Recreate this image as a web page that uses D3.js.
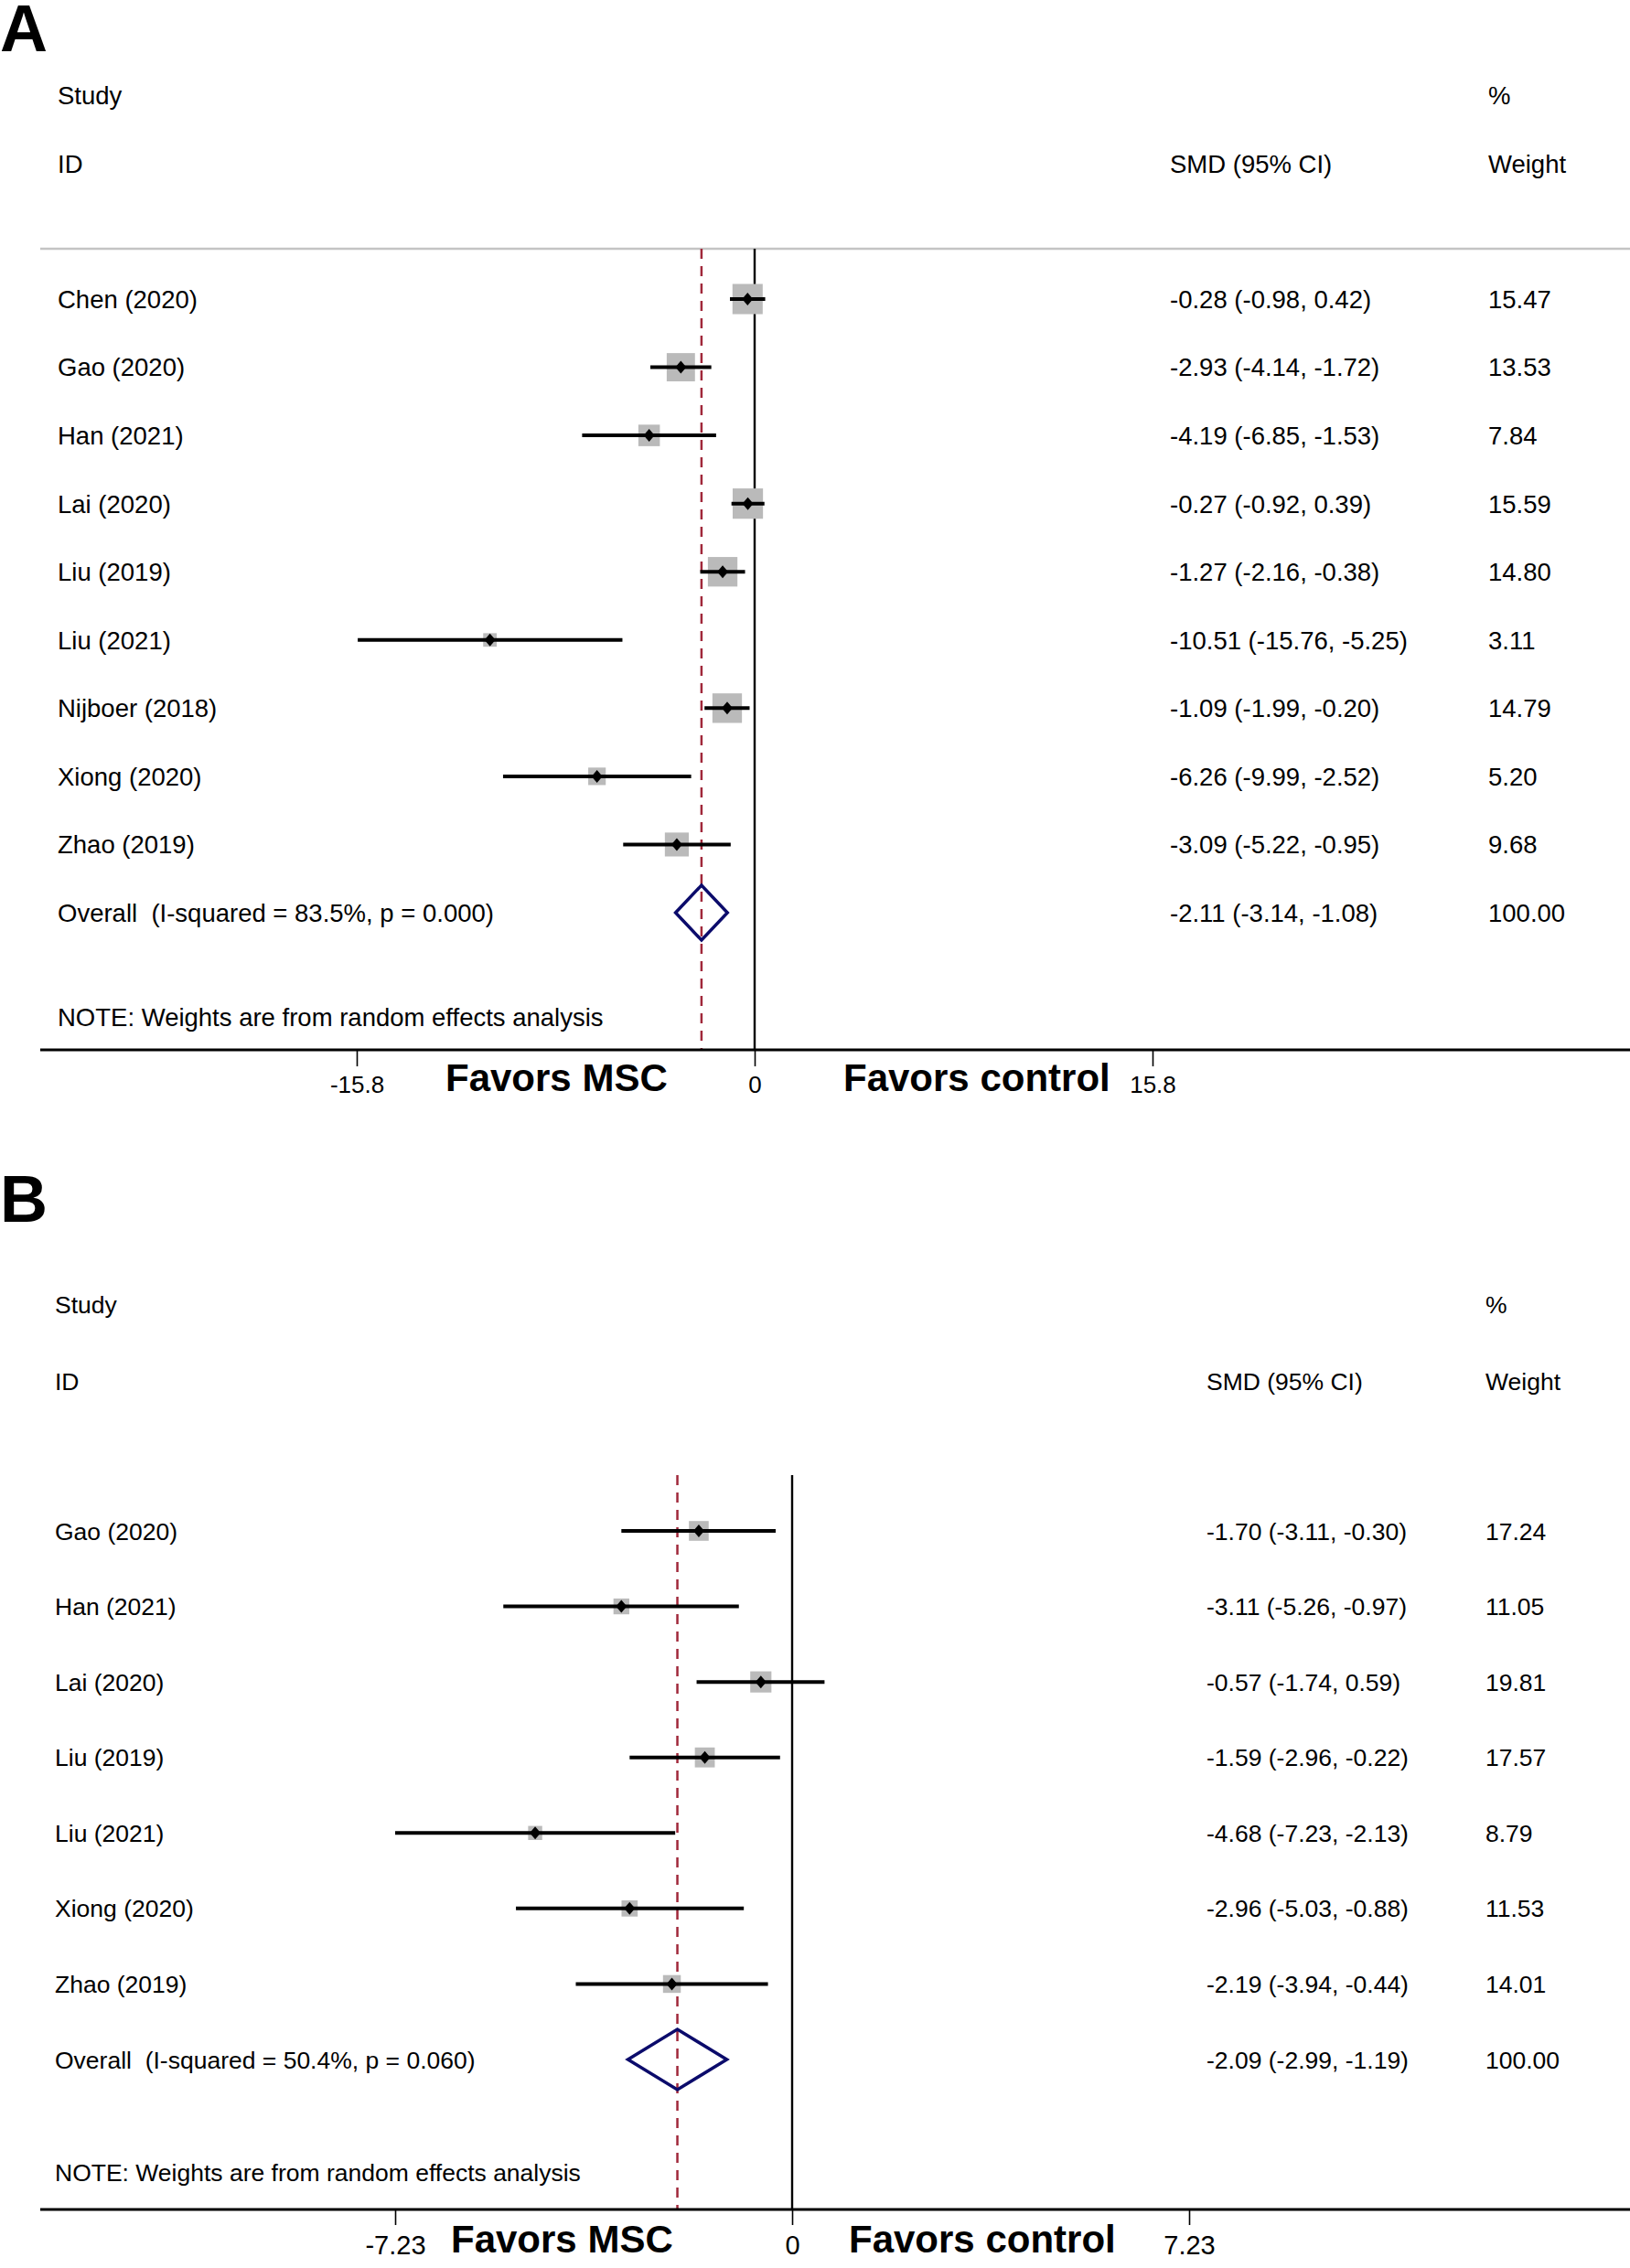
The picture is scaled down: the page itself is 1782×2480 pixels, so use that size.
<!DOCTYPE html>
<html>
<head>
<meta charset="utf-8">
<script src="https://cdn.jsdelivr.net/npm/d3@7"></script>
<style>
  html, body { margin: 0; padding: 0; background: #ffffff; }
  svg { display: block; font-family: "Liberation Sans", Arial, Helvetica, sans-serif; }
  text { white-space: pre; }
</style>
</head>
<body>
<svg id="chart" width="1782" height="2480"></svg>
<script>
// ---------------- Panel A data ----------------
const studiesA = ["Chen (2020)", "Gao (2020)", "Han (2021)", "Lai (2020)", "Liu (2019)",
                  "Liu (2021)", "Nijboer (2018)", "Xiong (2020)", "Zhao (2019)"];
const smdA    = [-0.28, -2.93, -4.19, -0.27, -1.27, -10.51, -1.09, -6.26, -3.09];
const lowA    = [-0.98, -4.14, -6.85, -0.92, -2.16, -15.76, -1.99, -9.99, -5.22];
const highA   = [ 0.42, -1.72, -1.53,  0.39, -0.38,  -5.25, -0.20, -2.52, -0.95];
const weightA = [15.47, 13.53, 7.84, 15.59, 14.80, 3.11, 14.79, 5.20, 9.68];
const overallA = [-2.11, -3.14, -1.08];           // SMD, low, high
const overallLabelA = "Overall  (I-squared = 83.5%, p = 0.000)";
const ticksA = [-15.8, 0, 15.8];
const tickLabelsA = ["-15.8", "0", "15.8"];

// ---------------- Panel B data ----------------
const studiesB = ["Gao (2020)", "Han (2021)", "Lai (2020)", "Liu (2019)",
                  "Liu (2021)", "Xiong (2020)", "Zhao (2019)"];
const smdB    = [-1.70, -3.11, -0.57, -1.59, -4.68, -2.96, -2.19];
const lowB    = [-3.11, -5.26, -1.74, -2.96, -7.23, -5.03, -3.94];
const highB   = [-0.30, -0.97,  0.59, -0.22, -2.13, -0.88, -0.44];
const weightB = [17.24, 11.05, 19.81, 17.57, 8.79, 11.53, 14.01];
const overallB = [-2.09, -2.99, -1.19];
const overallLabelB = "Overall  (I-squared = 50.4%, p = 0.060)";
const ticksB = [-7.23, 0, 7.23];
const tickLabelsB = ["-7.23", "0", "7.23"];

const noteText = "NOTE: Weights are from random effects analysis";
const favorsLeft = "Favors MSC";
const favorsRight = "Favors control";

const svg = d3.select("#chart");
const locale = d3.formatLocale({ decimal: ".", thousands: ",", grouping: [3], currency: ["", ""], minus: "-" });
const f2 = locale.format(".2f");
const ciText = (m, l, h) => `${f2(m)} (${f2(l)}, ${f2(h)})`;

function drawPanel(cfg) {
  const g = svg.append("g");
  const n = cfg.studies.length;
  const x = d3.scaleLinear().domain(cfg.xDomain).range(cfg.xRange);
  const y = d3.scaleLinear().domain([0, n]).range([cfg.yFirst, cfg.yOverall]);
  const box = d3.scaleSqrt().domain([0, 100]).range([0, cfg.boxMax]);
  const fs = cfg.fontSize;

  // Panel letter
  g.append("text").attr("x", 0).attr("y", cfg.letterBase)
    .attr("font-size", 72).attr("font-weight", "bold").attr("fill", "#000")
    .text(cfg.letter);

  // Headers
  const hdr = [
    ["Study", cfg.colStudy, cfg.hdr1],
    ["%", cfg.colWeight, cfg.hdr1],
    ["ID", cfg.colStudy, cfg.hdr2],
    ["SMD (95% CI)", cfg.colCI, cfg.hdr2],
    ["Weight", cfg.colWeight, cfg.hdr2]
  ];
  g.selectAll("text.hdr").data(hdr).join("text").attr("class", "hdr")
    .attr("x", d => d[1]).attr("y", d => d[2]).attr("dy", "0.36em")
    .attr("font-size", fs).attr("fill", "#000").text(d => d[0]);

  // separator line
  if (cfg.sepY) {
    g.append("line").attr("x1", 44).attr("x2", 1782).attr("y1", cfg.sepY).attr("y2", cfg.sepY)
      .attr("stroke", "#c4c4c4").attr("stroke-width", 2.5);
  }

  // zero line
  g.append("line").attr("x1", x(0)).attr("x2", x(0))
    .attr("y1", cfg.plotTop).attr("y2", cfg.axisY)
    .attr("stroke", "#000").attr("stroke-width", 2.4);

  // overall dashed line
  g.append("line").attr("x1", x(cfg.overall[0])).attr("x2", x(cfg.overall[0]))
    .attr("y1", cfg.plotTop).attr("y2", cfg.axisY)
    .attr("stroke", "#a0283a").attr("stroke-width", 2.5)
    .attr("stroke-dasharray", "11,8");

  const rows = cfg.studies.map((s, i) => ({
    name: s, m: cfg.smd[i], l: cfg.low[i], h: cfg.high[i], w: cfg.weight[i], i
  }));

  // weight boxes
  g.selectAll("rect.box").data(rows).join("rect").attr("class", "box")
    .attr("x", d => x(d.m) - box(d.w) / 2).attr("y", d => y(d.i) - box(d.w) / 2)
    .attr("width", d => box(d.w)).attr("height", d => box(d.w))
    .attr("fill", "#bababa");

  // CI lines
  g.selectAll("line.ci").data(rows).join("line").attr("class", "ci")
    .attr("x1", d => x(d.l)).attr("x2", d => x(d.h))
    .attr("y1", d => y(d.i)).attr("y2", d => y(d.i))
    .attr("stroke", "#000").attr("stroke-width", 4);

  // point diamonds
  g.selectAll("path.pt").data(rows).join("path").attr("class", "pt")
    .attr("d", d => {
      const cx = x(d.m), cy = y(d.i);
      return `M${cx},${cy - 7}L${cx + 6},${cy}L${cx},${cy + 7}L${cx - 6},${cy}Z`;
    })
    .attr("fill", "#000");

  // overall diamond
  const oy = y(n);
  const [om, ol, oh] = cfg.overall;
  g.append("path")
    .attr("d", `M${x(ol)},${oy}L${x(om)},${oy - cfg.diaH}L${x(oh)},${oy}L${x(om)},${oy + cfg.diaH}Z`)
    .attr("fill", "none").attr("stroke", "#0b0b6b").attr("stroke-width", 3.5)
    .attr("stroke-linejoin", "miter");

  // study labels & values
  const allRows = rows.map(d => ({ label: d.name, ci: ciText(d.m, d.l, d.h), w: f2(d.w), i: d.i }));
  allRows.push({ label: cfg.overallLabel, ci: ciText(om, ol, oh), w: f2(100), i: n });

  g.selectAll("text.lab").data(allRows).join("text").attr("class", "lab")
    .attr("x", cfg.colStudy).attr("y", d => y(d.i)).attr("dy", "0.36em")
    .attr("font-size", fs).attr("fill", "#000").text(d => d.label);
  g.selectAll("text.ci").data(allRows).join("text").attr("class", "ci")
    .attr("x", cfg.colCI).attr("y", d => y(d.i)).attr("dy", "0.36em")
    .attr("font-size", fs).attr("fill", "#000").text(d => d.ci);
  g.selectAll("text.wt").data(allRows).join("text").attr("class", "wt")
    .attr("x", cfg.colWeight).attr("y", d => y(d.i)).attr("dy", "0.36em")
    .attr("font-size", fs).attr("fill", "#000").text(d => d.w);

  // note
  g.append("text").attr("x", cfg.colStudy).attr("y", cfg.noteY).attr("dy", "0.36em")
    .attr("font-size", fs).attr("fill", "#000").text(noteText);

  // axis
  g.append("line").attr("x1", 44).attr("x2", 1782).attr("y1", cfg.axisY).attr("y2", cfg.axisY)
    .attr("stroke", "#000").attr("stroke-width", 3);
  const axis = d3.axisBottom(x).tickValues(cfg.ticks).tickSize(cfg.tickLen).tickPadding(4)
    .tickFormat((d, i) => cfg.tickLabels[i]);
  const ax = g.append("g").attr("transform", `translate(0,${cfg.axisY})`).call(axis);
  ax.select(".domain").remove();
  ax.selectAll(".tick line").attr("stroke", "#000").attr("stroke-width", 1.6);
  ax.selectAll(".tick text").attr("font-family", "Liberation Sans, Arial, sans-serif")
    .attr("font-size", cfg.tickFont).attr("fill", "#000")
    .attr("y", cfg.tickBase - cfg.axisY).attr("dy", 0);

  // favors labels
  g.append("text").attr("x", cfg.favL).attr("y", cfg.tickBase - 2)
    .attr("font-size", 42).attr("font-weight", "bold").attr("fill", "#000").text(favorsLeft);
  g.append("text").attr("x", cfg.favR).attr("y", cfg.tickBase - 2)
    .attr("font-size", 42).attr("font-weight", "bold").attr("fill", "#000").text(favorsRight);
}

drawPanel({
  letter: "A", letterBase: 56,
  studies: studiesA, smd: smdA, low: lowA, high: highA, weight: weightA,
  overall: overallA, overallLabel: overallLabelA,
  ticks: ticksA, tickLabels: tickLabelsA,
  xDomain: [-15.8, 15.8], xRange: [390, 1260],
  yFirst: 327, yOverall: 998,
  boxMax: 84, diaH: 30, fontSize: 27.5,
  colStudy: 63, colCI: 1279, colWeight: 1627,
  hdr1: 104, hdr2: 179, sepY: 272, plotTop: 272,
  noteY: 1112, axisY: 1148, tickLen: 18, tickFont: 26, tickBase: 1195,
  favL: 487, favR: 922
});

drawPanel({
  letter: "B", letterBase: 1336,
  studies: studiesB, smd: smdB, low: lowB, high: highB, weight: weightB,
  overall: overallB, overallLabel: overallLabelB,
  ticks: ticksB, tickLabels: tickLabelsB,
  xDomain: [-7.23, 7.23], xRange: [432, 1300],
  yFirst: 1674, yOverall: 2252,
  boxMax: 52, diaH: 33, fontSize: 26.5,
  colStudy: 60, colCI: 1319, colWeight: 1624,
  hdr1: 1426, hdr2: 1510, sepY: null, plotTop: 1613,
  noteY: 2375, axisY: 2416, tickLen: 17, tickFont: 29, tickBase: 2465,
  favL: 493, favR: 928
});
</script>
</body>
</html>
